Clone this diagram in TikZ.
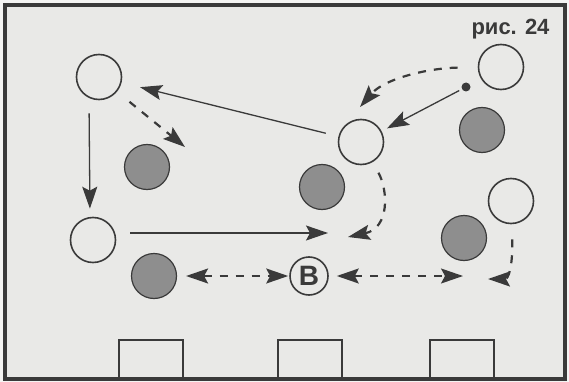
\documentclass[tikz,border=0pt]{standalone}
\usepackage{fontspec}
\setmainfont{Liberation Sans}
\usetikzlibrary{arrows.meta}
\definecolor{paper}{HTML}{E9E9E7}
\definecolor{ink}{HTML}{3A3A3A}
\definecolor{cgray}{HTML}{8E8E8E}

\begin{document}
\begin{tikzpicture}[x=1pt, y=-1pt,
  >={Stealth[length=22pt, width=15pt, inset=4pt]},
  open/.style={circle, draw=ink, line width=1.6pt, fill=paper, minimum size=45pt, inner sep=0pt},
  grey/.style={circle, draw=ink, line width=1.2pt, fill=cgray, minimum size=45pt, inner sep=0pt},
  run/.style={draw=ink, line width=1.3pt, ->},
  pass/.style={draw=ink, line width=2.2pt, dash pattern=on 8pt off 8pt, ->},
  goal/.style={draw=ink, line width=2pt}]
  \useasboundingbox (0,0) rectangle (569,382);
  % Frame
  \fill[white!50!paper] (0,0) rectangle (569,382);
  \draw[ink, line width=4pt, fill=paper] (5,5) rectangle (565,379);
  \node[font=\bfseries\fontsize{22}{22}\selectfont, text=ink, anchor=east] (fig) at (553,29) {рис. 24};

  % Goals
  \foreach \x in {119,278,430}{
    \draw[goal] (\x,379) rectangle ++(64,-39);
  }

  % Attackers (open) and defenders (grey)
  \foreach \n/\x/\y in {o1/99/77, o2/501/67, o3/361/142, o4/511/201, o5/93/240}{
    \node[open] (\n) at (\x,\y) {};
  }
  \foreach \n/\x/\y in {d1/147/167, d2/322/187, d3/482/130, d4/464/238, d5/154/276}{
    \node[grey] (\n) at (\x,\y) {};
  }
  \node[circle, fill=ink, minimum size=9pt, inner sep=0pt] (ball) at (466,87) {};
  \node[open, minimum size=38pt, font=\bfseries\fontsize{28}{28}\selectfont, text=ink] (nb) at (309,276) {B};

  % Free ends
  \coordinate (run1) at (185,147);
  \coordinate (c1) at (328,233);
  \coordinate (c2) at (348,237);
  \coordinate (c3) at (360,107);
  \coordinate (c4) at (463,276);
  \coordinate (c5) at (488,279);

  % Runs and passes
  \draw[run, shorten <=13pt, shorten >=19pt] (o3) -- (o1);
  \draw[pass, shorten <=16pt] (o1) -- (run1);
  \draw[run, shorten <=13pt, shorten >=8pt] ([xshift=-10pt]o1.south) -- ([xshift=-3pt]o5.north);
  \draw[run, shorten <=14pt] (o5.east |- c1) -- (c1);
  \draw[pass, shorten <=12pt] (o3.-60) .. controls (388,190) and (390,228) .. (c2);
  \draw[pass, shorten <=20pt] (o2) .. controls (430,68) and (385,78) .. (c3);
  \draw[run, shorten <=3pt, shorten >=6pt] (ball) -- (o3);
  \draw[pass, line width=1.8pt, <->, shorten <=9pt, shorten >=1pt] (d5) -- (nb);
  \draw[pass, line width=1.8pt, <->, shorten <=8pt] (nb) -- (c4);
  \draw[pass, shorten <=15pt] (o4) .. controls (513,268) and (508,279) .. (c5);
\end{tikzpicture}
\end{document}
